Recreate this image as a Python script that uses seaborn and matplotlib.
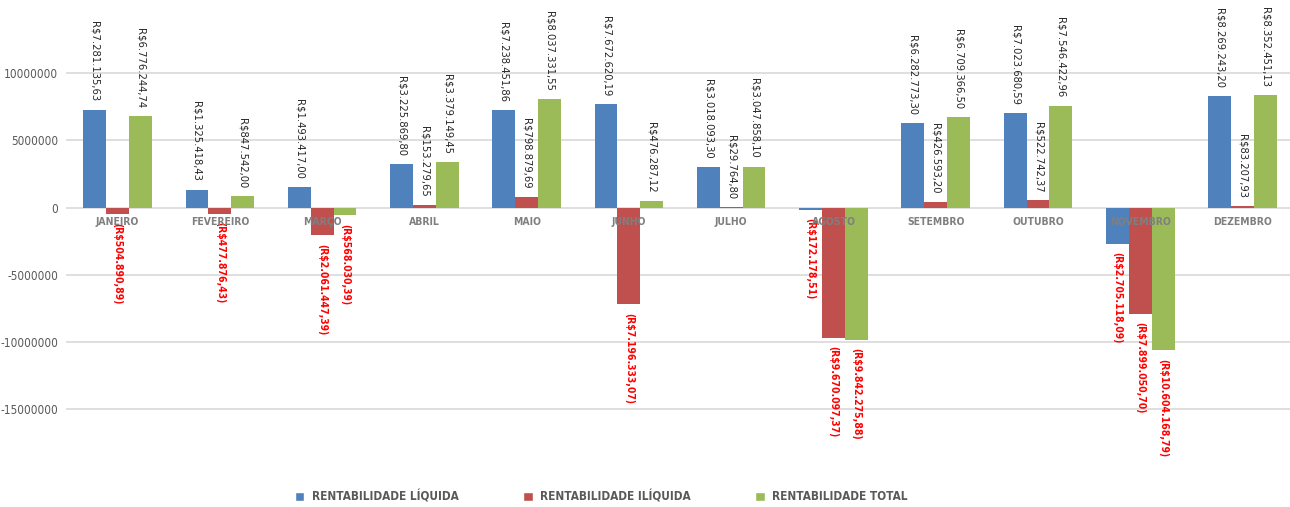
import matplotlib
matplotlib.use("Agg")
import matplotlib.pyplot as plt
import seaborn as sns
import pandas as pd
from matplotlib.patches import Patch
from matplotlib.transforms import offset_copy
from matplotlib.ticker import FuncFormatter

months = ["JANEIRO", "FEVEREIRO", "MARÇO", "ABRIL", "MAIO", "JUNHO",
          "JULHO", "AGOSTO", "SETEMBRO", "OUTUBRO", "NOVEMBRO", "DEZEMBRO"]
series = ["RENTABILIDADE LÍQUIDA", "RENTABILIDADE ILÍQUIDA", "RENTABILIDADE TOTAL"]

liquida = [7281135.63, 1325418.43, 1493417.00, 3225869.80, 7238451.86, 7672620.19,
           3018093.30, -172178.51, 6282773.30, 7023680.59, -2705118.09, 8269243.20]
iliquida = [-504890.89, -477876.43, -2061447.39, 153279.65, 798879.69, -7196333.07,
            29764.80, -9670097.37, 426593.20, 522742.37, -7899050.70, 83207.93]
total = [6776244.74, 847542.00, -568030.39, 3379149.45, 8037331.55, 476287.12,
         3047858.10, -9842275.88, 6709366.50, 7546422.96, -10604168.79, 8352451.13]

yticks = [10000000, 5000000, 0, -5000000, -10000000, -15000000]
colors = ["#4F81BD", "#C0504D", "#9BBB59"]

sns.set_style("white")
FONT = ["DejaVu Sans"]
plt.rcParams["font.family"] = FONT
plt.rcParams["font.stretch"] = "condensed"

values = {series[0]: liquida, series[1]: iliquida, series[2]: total}
rows = []
for s in series:
    for m, v in zip(months, values[s]):
        rows.append({"mes": m, "serie": s, "valor": v})
df = pd.DataFrame(rows)


def brl(v):
    txt = f"{abs(v):,.2f}".replace(",", "X").replace(".", ",").replace("X", ".")
    return f"(R${txt})" if v < 0 else f"R${txt}"


fig = plt.figure(figsize=(12.9, 5.07), dpi=100)
ax = fig.add_axes([66.4 / 1290, (507 - 460) / 507, 1227.3 / 1290, 460 / 507])

sns.barplot(data=df, x="mes", y="valor", hue="serie", order=months, hue_order=series,
            palette=colors, width=0.67, saturation=1, errorbar=None, legend=False,
            linewidth=0, ax=ax)

ax.set_ylim(-18.76e6, 15.42e6)
ax.set_xlim(-0.5, len(months) - 0.5)

for cont, s in zip(ax.containers, series):
    vals = values[s]
    texts = ax.bar_label(cont, labels=[brl(v) for v in vals], rotation=270,
                         padding=6, fontsize=8, fontstretch="condensed")
    for t, v in zip(texts, vals):
        if v < 0:
            t.set_color("#FF0000")
            t.set_fontweight("bold")
            t.set_fontsize(7.5)
        else:
            t.set_color("#262626")

tr = offset_copy(ax.transData, fig=fig, y=-14.5, units="dots")
for i, m in enumerate(months):
    ax.text(i, 0, m, transform=tr, ha="center", va="center", fontsize=7.5,
            fontweight="bold", fontstretch="condensed", color="#7F7F7F", zorder=5)

ax.set_yticks(yticks)
ax.yaxis.set_major_formatter(FuncFormatter(lambda v, p: f"{int(round(v))}"))
ax.tick_params(axis="y", length=0, pad=6, labelsize=8.5, labelcolor="#595959")
ax.tick_params(axis="x", length=0, labelbottom=False)
ax.set_xlabel("")
ax.set_ylabel("")
ax.yaxis.grid(True, color="#D9D9D9", linewidth=1.2)
ax.set_axisbelow(True)
for sp in ax.spines.values():
    sp.set_visible(False)

handles = [Patch(facecolor=c, label=s) for c, s in zip(colors, series)]
leg = fig.legend(handles=handles, loc="center", bbox_to_anchor=(0.466, 0.02), ncol=3,
                 frameon=False, handlelength=0.8, handleheight=0.8, handletextpad=0.6,
                 columnspacing=5.5,
                 prop={"family": FONT, "weight": "bold", "size": 8.5, "stretch": "condensed"})
for t in leg.get_texts():
    t.set_color("#595959")

fig.savefig("out.png", dpi=100)
